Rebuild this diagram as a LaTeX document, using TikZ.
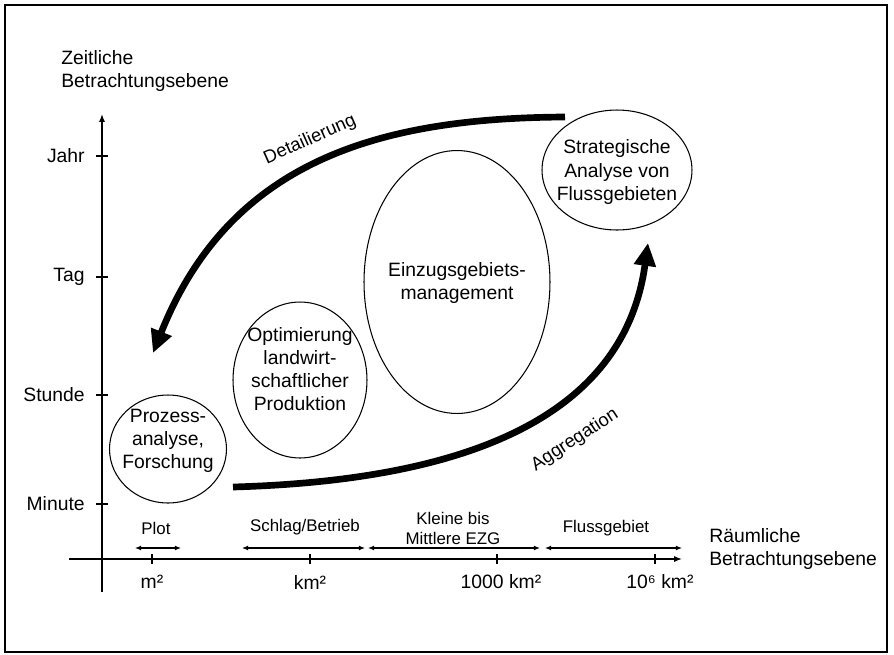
\documentclass[tikz,border=0pt]{standalone}
\usepackage{fontspec}
\setmainfont{Liberation Sans}
\usetikzlibrary{arrows.meta, shapes.geometric}

\begin{document}
\begin{tikzpicture}[x=0.02cm, y=-0.02cm,
        feld/.style={ellipse, draw, line width=0.6pt, inner sep=0pt},
        feldtext/.style={align=center, font=\fontsize{11}{13.2}\selectfont},
        gross/.style={font=\fontsize{11}{13.2}\selectfont},
        klein/.style={font=\fontsize{9.6}{11.4}\selectfont},
        achse/.style={line width=0.8pt, -{Latex[length=4.5pt,width=3.5pt]}},
        bereich/.style={line width=0.6pt, {Latex[length=3.5pt,width=2.8pt]}-{Latex[length=3.5pt,width=2.8pt]}},
        pfeil/.style={line width=3.8pt, -{Triangle[length=13pt,width=12pt]}}]
        \useasboundingbox (0,0) rectangle (894,654);
        \draw[line width=1pt] (5,5) rectangle (887,652);

        \coordinate (yunten) at (102,592);
        \coordinate (yoben) at (102,114);
        \coordinate (xlinks) at (69,559);
        \coordinate (xrechts) at (682,559);
        \draw[achse] (yunten)--(yoben);
        \draw[achse] (xlinks)--(xrechts);

        \node[gross, align=left, anchor=west, inner sep=0pt] (zeitachse) at (61,71) {Zeitliche\\Betrachtungsebene};
        \node[gross, align=left, anchor=west, inner sep=0pt] (raumachse) at (709,549) {Räumliche\\Betrachtungsebene};

        \foreach \name/\y/\txt in {jahr/156/Jahr, tag/277/Tag, stunde/395/Stunde, minute/504/Minute}{
            \draw[line width=0.8pt] (96,\y)--(108,\y);
            \node[gross, anchor=east, inner sep=0pt] (\name) at (85,\y) {\txt};
        }

        \foreach \x in {152, 310, 497, 655}{
            \draw[line width=0.8pt] (\x,554)--(\x,564);
        }
        \node[gross] (qm) at (152,582) {m²};
        \node[gross] (qkm) at (310,582) {km²};
        \node[gross] (tsdqkm) at (501,582) {1000 km²};
        \node[gross] (mioqkm) at (660,582) {10⁶ km²};

        \coordinate (plotl) at (135,548);
        \coordinate (plotr) at (181,548);
        \coordinate (schlagl) at (242,548);
        \coordinate (schlagr) at (365,548);
        \coordinate (ezgl) at (368,548);
        \coordinate (ezgr) at (540,548);
        \coordinate (flussl) at (545,548);
        \coordinate (flussr) at (682,548);
        \draw[bereich] (plotl)--(plotr);
        \draw[bereich] (schlagl)--(schlagr);
        \draw[bereich] (ezgl)--(ezgr);
        \draw[bereich] (flussl)--(flussr);
        \node[klein] (plot) at (156,528) {Plot};
        \node[klein] (schlag) at (305,527) {Schlag/Betrieb};
        \node[klein, align=center] (ezg) at (453,528) {Kleine bis\\Mittlere EZG};
        \node[klein] (flussgebiet) at (606,528) {Flussgebiet};

        \node[feld, minimum width=2.34cm, minimum height=2.16cm] (prozess) at (168,449) {};
        \node[feld, minimum width=2.68cm, minimum height=3.12cm] (optimierung) at (300,380) {};
        \node[feld, minimum width=3.72cm, minimum height=5.26cm] (einzug) at (457,282) {};
        \node[feld, minimum width=3.0cm, minimum height=2.4cm] (strategie) at (617,170) {};
        \node[feldtext] (prozesstext) at (168,441) {Prozess-\\analyse,\\Forschung};
        \node[feldtext] (optimierungtext) at (300,369) {Optimierung\\landwirt-\\schaftlicher\\Produktion};
        \node[feldtext] (einzugtext) at (457,283) {Einzugsgebiets-\\management};
        \node[feldtext] (strategietext) at (617,172) {Strategische\\Analyse von\\Flussgebieten};

        \coordinate (detstart) at (565,117);
        \coordinate (detende) at (153,353);
        \coordinate (aggstart) at (233,487);
        \coordinate (aggende) at (648,243);
        \draw[pfeil] (detstart) .. controls (380,118) and (230,160) .. (detende);
        \draw[pfeil] (aggstart) .. controls (480,480) and (625,410) .. (aggende);
        \node[font=\fontsize{10.5}{12}\selectfont, rotate=24] (detail) at (310,140) {Detailierung};
        \node[font=\fontsize{10.5}{12}\selectfont, rotate=33] (aggregation) at (575,440) {Aggregation};
    \end{tikzpicture}
\end{document}
